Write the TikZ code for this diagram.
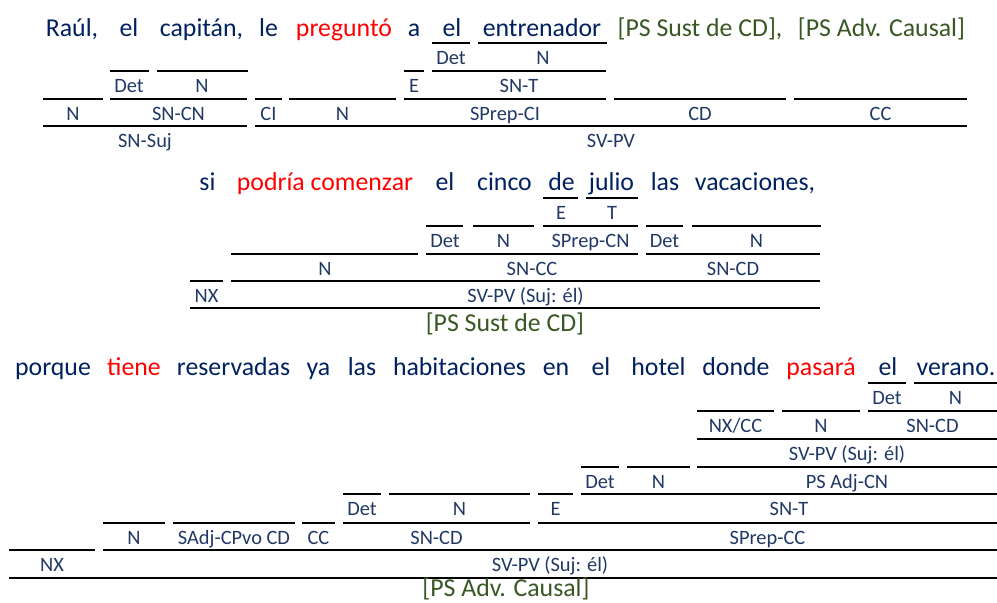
\documentclass[tikz,border=0pt]{standalone}
\usepackage{fontspec}
\setmainfont{Carlito}
\definecolor{navy}{RGB}{0,32,96}
\definecolor{labblue}{RGB}{32,56,100}
\definecolor{psgreen}{RGB}{56,87,35}
\tikzset{
  wd/.style={anchor=base,inner sep=0pt,text=navy,font=\fontsize{25.8}{30}\selectfont},
  vb/.style={wd,text=red},
  ps/.style={wd,text=psgreen},
  lab/.style={anchor=base,inner sep=0pt,text=labblue,font=\fontsize{20.4}{24}\selectfont},
  ul/.style={line width=2.2pt}
}
\begin{document}
\begin{tikzpicture}[x=1pt,y=-1pt]
\useasboundingbox (0,0) rectangle (997,603);
% first sentence
\node[wd] (raul) at (72,36) {Raúl,};
\node[wd] (el1) at (129,36) {el};
\node[wd] (capitan) at (201.5,36) {capitán,};
\node[wd] (le) at (268.5,36) {le};
\node[vb] (pregunto) at (344,36) {preguntó};
\node[wd] (a) at (414,36) {a};
\node[wd] (el2) at (452,36) {el};
\node[wd] (entrenador) at (542,36) {entrenador};
\node[ps] (pscd) at (700,36) {[PS Sust de CD],};
\node[ps] (psadv) at (881.5,36) {[PS Adv. Causal]};
\draw[ul] (432,42.7) -- (470,42.7) (478,42.7) -- (607,42.7);
\node[lab] (det1) at (451,64) {Det};
\node[lab] (n1) at (543,64) {N};
\draw[ul] (110,70.7) -- (149,70.7) (157,70.7) -- (248,70.7) (404,70.7) -- (424,70.7) (432,70.7) -- (606,70.7);
\node[lab] (det2) at (129,92) {Det};
\node[lab] (n2) at (202,92) {N};
\node[lab] (e1) at (414,92) {E};
\node[lab] (snt1) at (519,92) {SN-T};
\draw[ul] (43,98.7) -- (103,98.7) (110,98.7) -- (247,98.7) (255,98.7) -- (282,98.7) (289,98.7) -- (396,98.7)
  (404,98.7) -- (606,98.7) (614,98.7) -- (786,98.7) (794,98.7) -- (967,98.7);
\node[lab] (n3) at (73,120) {N};
\node[lab] (sncn) at (178.5,120) {SN-CN};
\node[lab] (ci) at (268.5,120) {CI};
\node[lab] (n4) at (342.5,120) {N};
\node[lab] (sprepci) at (505,120) {SPrep-CI};
\node[lab] (cd1) at (700,120) {CD};
\node[lab] (cc1) at (880.5,120) {CC};
\draw[ul] (43,126) -- (247,126) (255,126) -- (967,126);
\node[lab] (snsuj) at (145,147) {SN-Suj};
\node[lab] (svpv1) at (611,147) {SV-PV};
% second sentence
\node[wd] (si) at (207.5,190.7) {si};
\node[vb] (podria) at (325,190.7) {podría comenzar};
\node[wd] (el3) at (445,190.7) {el};
\node[wd] (cinco) at (504.5,190.7) {cinco};
\node[wd] (de) at (561.5,190.7) {de};
\node[wd] (julio) at (611.5,190.7) {julio};
\node[wd] (las1) at (665,190.7) {las};
\node[wd] (vacaciones) at (755,190.7) {vacaciones,};
\draw[ul] (543,197.7) -- (578,197.7) (586,197.7) -- (638,197.7);
\node[lab] (e2) at (561,219) {E};
\node[lab] (t1) at (612,219) {T};
\draw[ul] (426,225.7) -- (463,225.7) (473,225.7) -- (534,225.7) (543,225.7) -- (638,225.7)
  (646,225.7) -- (683,225.7) (692,225.7) -- (821,225.7);
\node[lab] (det3) at (445,247) {Det};
\node[lab] (n5) at (503.5,247) {N};
\node[lab] (sprepcn) at (590.5,247) {SPrep-CN};
\node[lab] (det4) at (664.5,247) {Det};
\node[lab] (n6) at (756.5,247) {N};
\draw[ul] (231,254) -- (418,254) (426,254) -- (638,254) (646,254) -- (820,254);
\node[lab] (n7) at (325,275) {N};
\node[lab] (sncc) at (532,275) {SN-CC};
\node[lab] (sncd1) at (733,275) {SN-CD};
\draw[ul] (190,280.7) -- (223,280.7) (231,280.7) -- (820,280.7);
\node[lab] (nx1) at (206.5,302) {NX};
\node[lab] (svpv2) at (525.5,302) {SV-PV (Suj: él)};
\draw[ul] (190,308.3) -- (820,308.3);
\node[ps] (pscd2) at (505,331.5) {[PS Sust de CD]};
% third sentence
\node[wd] (porque) at (53,375) {porque};
\node[vb] (tiene) at (134,375) {tiene};
\node[wd] (reservadas) at (233.5,375) {reservadas};
\node[wd] (ya) at (318.5,375) {ya};
\node[wd] (las2) at (362,375) {las};
\node[wd] (habitaciones) at (459.5,375) {habitaciones};
\node[wd] (en) at (556,375) {en};
\node[wd] (el4) at (601,375) {el};
\node[wd] (hotel) at (658.5,375) {hotel};
\node[wd] (donde) at (736,375) {donde};
\node[vb] (pasara) at (821,375) {pasará};
\node[wd] (el5) at (888,375) {el};
\node[wd] (verano) at (956,375) {verano.};
\draw[ul] (868,383.3) -- (906,383.3) (914,383.3) -- (997,383.3);
\node[lab] (det5) at (887,404.5) {Det};
\node[lab] (n8) at (955.5,404.5) {N};
\draw[ul] (697,410.7) -- (774,410.7) (782,410.7) -- (860,410.7) (868,410.7) -- (997,410.7);
\node[lab] (nxcc) at (735.5,432) {NX/CC};
\node[lab] (n9) at (821,432) {N};
\node[lab] (sncd2) at (932.5,432) {SN-CD};
\draw[ul] (697,439) -- (997,439);
\node[lab] (svpv3) at (847,460) {SV-PV (Suj: él)};
\draw[ul] (581,466.7) -- (619,466.7) (627,466.7) -- (690,466.7) (697,466.7) -- (997,466.7);
\node[lab] (det6) at (600,488) {Det};
\node[lab] (n10) at (658.5,488) {N};
\node[lab] (psadjcn) at (847,488) {PS Adj-CN};
\draw[ul] (343,494) -- (381,494) (389,494) -- (530,494) (538,494) -- (573,494) (581,494) -- (997,494);
\node[lab] (det7) at (362,515.5) {Det};
\node[lab] (n11) at (459.5,515.5) {N};
\node[lab] (e3) at (555.5,515.5) {E};
\node[lab] (snt2) at (789,515.5) {SN-T};
\draw[ul] (103,522.7) -- (165,522.7) (173,522.7) -- (295,522.7) (302,522.7) -- (335,522.7)
  (343,522.7) -- (530,522.7) (538,522.7) -- (997,522.7);
\node[lab] (n12) at (134,544) {N};
\node[lab] (sadj) at (234,544) {SAdj-CPvo CD};
\node[lab] (cc2) at (318.5,544) {CC};
\node[lab] (sncd3) at (436.5,544) {SN-CD};
\node[lab] (sprepcc) at (767.5,544) {SPrep-CC};
\draw[ul] (9,550) -- (95,550) (103,550) -- (997,550);
\node[lab] (nx2) at (52,571.5) {NX};
\node[lab] (svpv4) at (550,571.5) {SV-PV (Suj: él)};
\draw[ul] (9,577.7) -- (997,577.7);
\node[ps] (psadv2) at (506,596) {[PS Adv. Causal]};
\end{tikzpicture}
\end{document}
